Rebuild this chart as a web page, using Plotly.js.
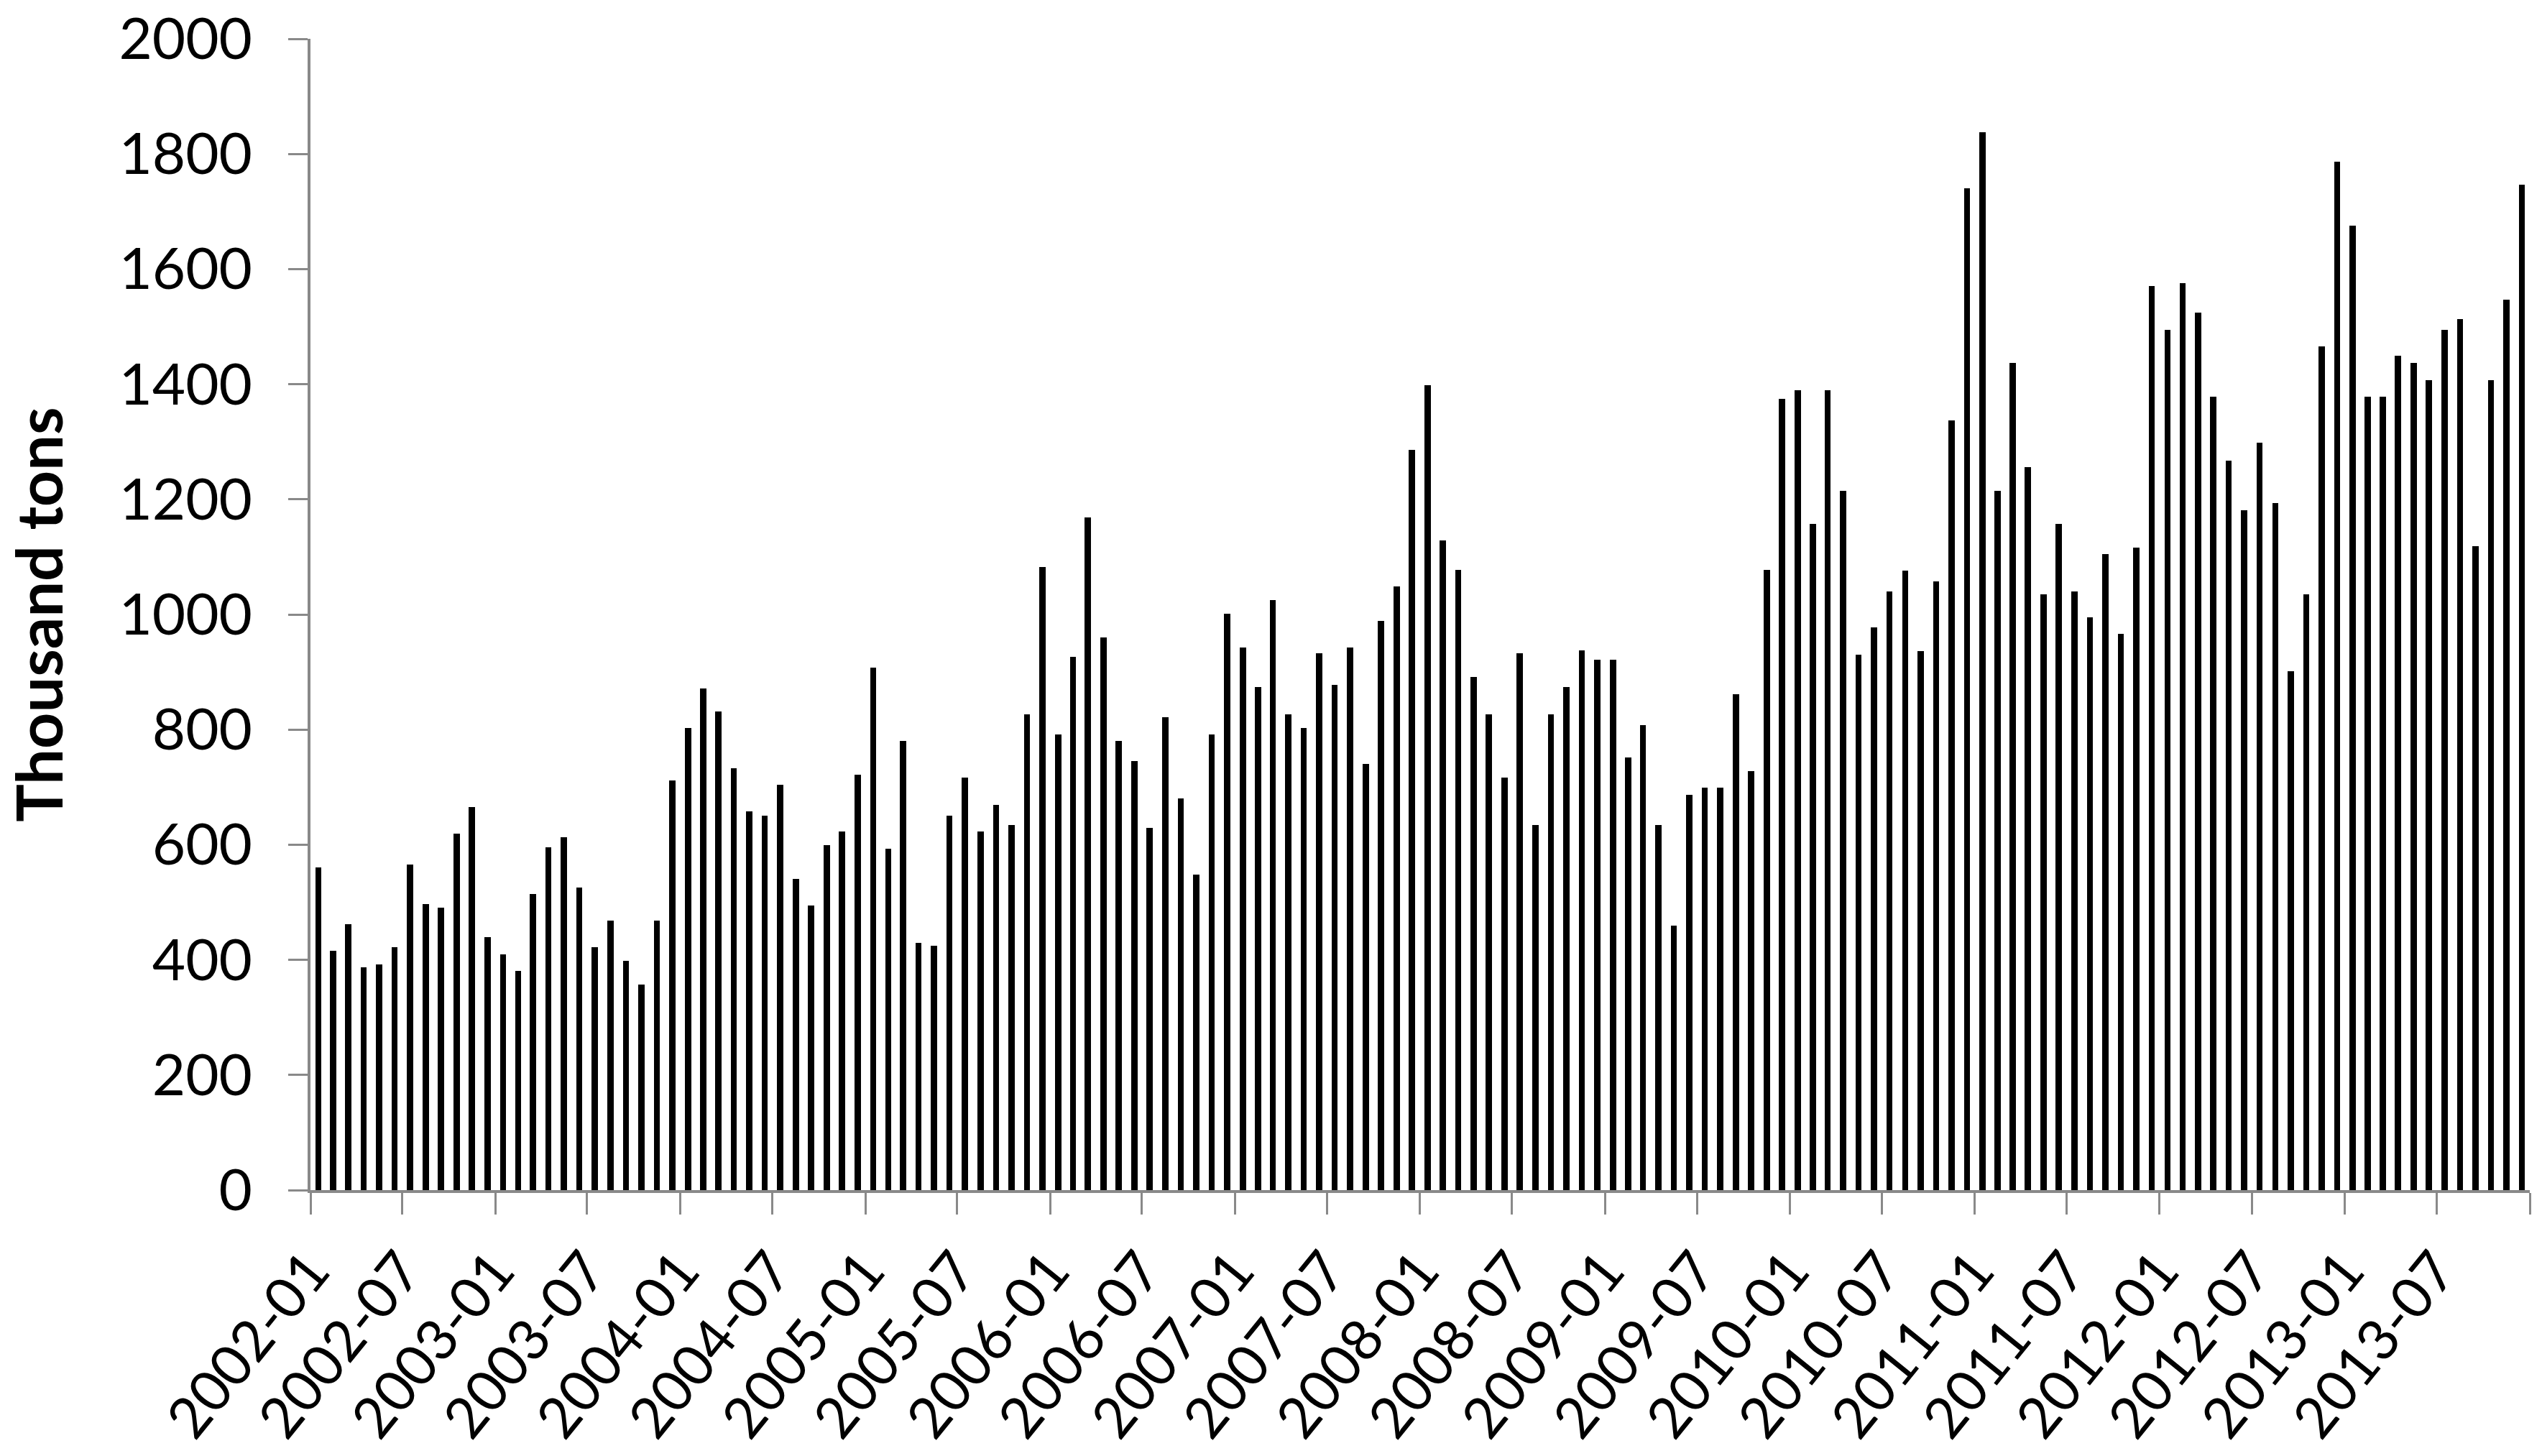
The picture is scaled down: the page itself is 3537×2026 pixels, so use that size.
<!DOCTYPE html>
<html>
<head>
<meta charset="utf-8">
<script src="https://cdn.plot.ly/plotly-3.0.1.min.js"></script>
<style>
  html, body { margin: 0; padding: 0; background: #ffffff; }
  #chart { width: 3537px; height: 2026px; }
</style>
</head>
<body>
<div id="chart"></div>
<script>
// ---- Data (thousand tons, monthly) ----
const years = [2002, 2003, 2004, 2005, 2006, 2007, 2008, 2009, 2010, 2011, 2012, 2013];
const v2002 = [561, 416, 462, 387, 392, 422, 566, 497, 491, 619, 665, 439];
const v2003 = [410, 381, 514, 596, 613, 526, 422, 468, 398, 357, 468, 712];
const v2004 = [803, 872, 832, 733, 658, 651, 704, 541, 495, 599, 623, 722];
const v2005 = [907, 593, 780, 430, 425, 651, 716, 623, 669, 634, 826, 1082];
const v2006 = [792, 926, 1169, 960, 780, 745, 629, 821, 681, 548, 792, 1001];
const v2007 = [943, 874, 1025, 826, 803, 932, 878, 943, 740, 989, 1049, 1286];
const v2008 = [1398, 1129, 1077, 891, 827, 717, 932, 634, 827, 874, 938, 921];
const v2009 = [921, 752, 808, 634, 460, 687, 699, 699, 862, 728, 1077, 1374];
const v2010 = [1390, 1157, 1390, 1215, 930, 978, 1040, 1076, 936, 1057, 1337, 1740];
const v2011 = [1838, 1215, 1437, 1256, 1035, 1157, 1040, 995, 1105, 966, 1116, 1571];
const v2012 = [1494, 1576, 1524, 1378, 1267, 1181, 1298, 1194, 901, 1035, 1466, 1786];
const v2013 = [1676, 1378, 1378, 1449, 1437, 1407, 1494, 1513, 1118, 1407, 1547, 1746];
const valuesByYear = [v2002, v2003, v2004, v2005, v2006, v2007, v2008, v2009, v2010, v2011, v2012, v2013];

const tickLabels = ['2002-01', '2002-07', '2003-01', '2003-07', '2004-01', '2004-07',
                    '2005-01', '2005-07', '2006-01', '2006-07', '2007-01', '2007-07',
                    '2008-01', '2008-07', '2009-01', '2009-07', '2010-01', '2010-07',
                    '2011-01', '2011-07', '2012-01', '2012-07', '2013-01', '2013-07'];
const rangeStart = '2002-01-01';
const rangeEnd = '2014-01-01';
const yTitle = 'Thousand tons';

// ---- Build month categories ----
const months = [];
const values = [];
years.forEach((yr, i) => {
  valuesByYear[i].forEach((v, m) => {
    months.push(yr + '-' + String(m + 1).padStart(2, '0'));
    values.push(v);
  });
});

const axisGray = '#898989';
const DAY = 24 * 3600 * 1000;
const FONT = 'Lato, "Open Sans", sans-serif';

const trace = {
  type: 'bar',
  x: months,
  y: values,
  xperiod: 'M1',
  xperiodalignment: 'middle',
  width: 12.3 * DAY,
  marker: { color: '#000000', line: { width: 0 } },
  hoverinfo: 'x+y'
};

const layout = {
  width: 3537,
  height: 2026,
  margin: { l: 432, r: 17, t: 54, b: 370 },
  paper_bgcolor: '#ffffff',
  plot_bgcolor: '#ffffff',
  showlegend: false,
  bargap: 0,
  xaxis: {
    type: 'date',
    range: [rangeStart, rangeEnd],
    tickmode: 'array',
    tickvals: tickLabels.concat([rangeEnd]),
    ticktext: tickLabels.concat(['']),
    tickangle: -51,
    ticks: 'outside',
    ticklen: 30,
    tickwidth: 3,
    tickcolor: axisGray,
    showline: true,
    linecolor: axisGray,
    linewidth: 4,
    showgrid: false,
    zeroline: false,
    ticklabeloverflow: 'allow',
    tickfont: { family: FONT, size: 79, color: '#000000' }
  },
  yaxis: {
    range: [0, 2000],
    tick0: 0,
    dtick: 200,
    ticks: 'outside',
    ticklen: 27,
    tickwidth: 3,
    tickcolor: axisGray,
    showline: true,
    linecolor: axisGray,
    linewidth: 4,
    showgrid: false,
    zeroline: false,
    ticklabelstandoff: 34,
    ticklabeloverflow: 'allow',
    tickfont: { family: FONT, size: 80, color: '#000000' },
    title: {
      text: yTitle,
      standoff: 62,
      font: { family: FONT, size: 88, color: '#000000', weight: 'bold' }
    }
  }
};

Plotly.newPlot('chart', [trace], layout, { staticPlot: true, displayModeBar: false });
</script>
</body>
</html>
